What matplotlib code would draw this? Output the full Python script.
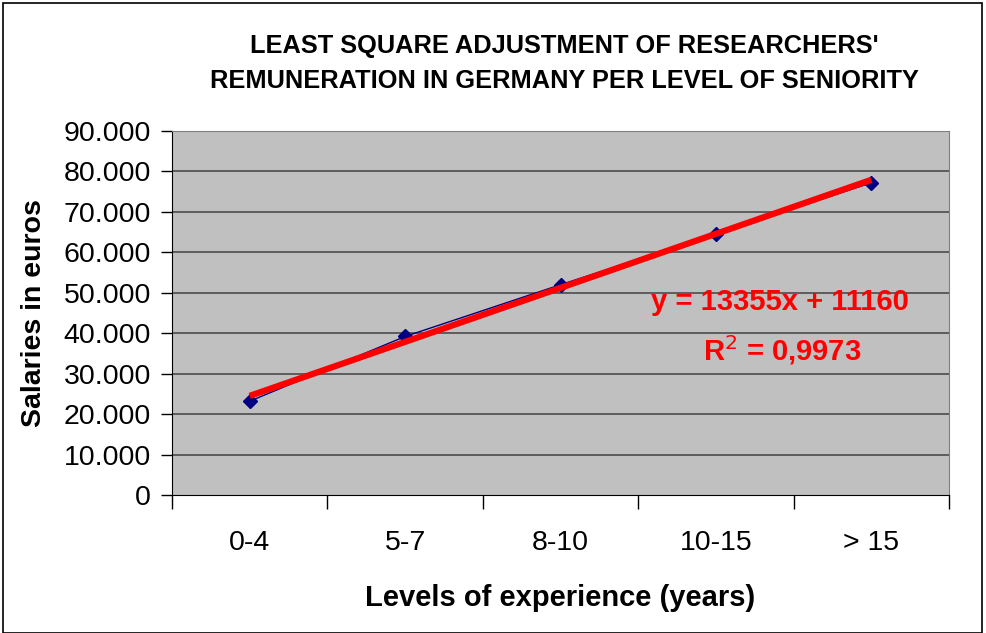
import numpy as np
import matplotlib
matplotlib.use("Agg")
import matplotlib.pyplot as plt
from matplotlib.patches import Rectangle

plt.rcParams['font.family'] = ['Liberation Sans', 'DejaVu Sans']

# Data
categories = ["0-4", "5-7", "8-10", "10-15", "> 15"]
salaries = [23200, 39200, 52000, 64500, 77200]
slope = 13355
intercept = 11160
r_squared = "0,9973"
y_ticks = [0, 10000, 20000, 30000, 40000, 50000, 60000, 70000, 80000, 90000]
y_tick_labels = ["0", "10.000", "20.000", "30.000", "40.000", "50.000",
                 "60.000", "70.000", "80.000", "90.000"]

x = np.arange(1, len(categories) + 1)
trend = slope * x + intercept

fig = plt.figure(figsize=(9.87, 6.33), dpi=100)
fig.patches.append(Rectangle((0.003, 0.0), 0.992, 0.995, transform=fig.transFigure,
                             fill=False, edgecolor="black", linewidth=1.2))

ax = fig.add_axes([0.1743, 0.218, 0.7872, 0.575])
ax.set_facecolor("#C0C0C0")

for yv in y_ticks[1:]:
    ax.axhline(yv, color="#555555", linewidth=1.3, zorder=1)

ax.plot(x, salaries, color="#000080", linewidth=1, marker="D", markersize=7.5,
        zorder=3)
ax.plot(x, trend, color="#FF0000", linewidth=4.5, solid_capstyle="butt", zorder=4)

ax.set_xlim(0.5, len(categories) + 0.5)
ax.set_ylim(0, 90000)

ax.set_yticks(y_ticks)
ax.set_yticklabels(y_tick_labels, fontsize=20.5)
ax.tick_params(axis="y", direction="out", length=8, width=1, pad=7)

ax.set_xticks(np.arange(0.5, len(categories) + 1, 1))
ax.set_xticklabels([])
ax.tick_params(axis="x", which="major", direction="out", length=10, width=1)
ax.set_xticks(x, minor=True)
ax.set_xticklabels(categories, minor=True, fontsize=20.5)
ax.tick_params(axis="x", which="minor", length=0, pad=25)

for side in ["top", "right"]:
    ax.spines[side].set_color("#808080")
for side in ["left", "bottom"]:
    ax.spines[side].set_color("black")

ax.set_xlabel("Levels of experience (years)", fontsize=21, fontweight="bold",
              labelpad=20)
ax.set_ylabel("Salaries in euros", fontsize=20.5, fontweight="bold", labelpad=12)

fig.text(0.572, 0.9, "LEAST SQUARE ADJUSTMENT OF RESEARCHERS'\nREMUNERATION IN GERMANY PER LEVEL OF SENIORITY",
         ha="center", va="center", fontsize=18.3, fontweight="bold", linespacing=1.6)

ax.text(0.782, 0.53, f"y = {slope}x + {intercept}", transform=ax.transAxes,
        ha="center", va="center", color="#FF0000", fontsize=21, fontweight="bold")
ax.text(0.785, 0.397, f"R$^2$ = {r_squared}", transform=ax.transAxes,
        ha="center", va="center", color="#FF0000", fontsize=21, fontweight="bold")

fig.savefig("out.png", dpi=100)
